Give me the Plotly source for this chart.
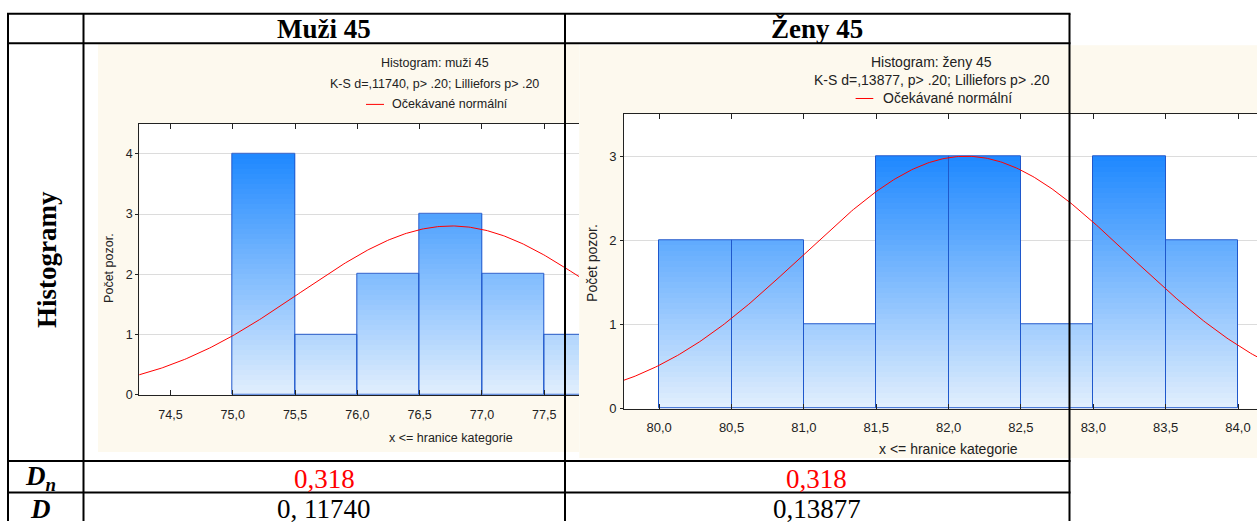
import numpy as np
import plotly.graph_objects as go

W, H = 1257, 529

# ---------------- data ----------------
bin_width = 0.5
muzi_bin_left = [75.0, 75.5, 76.0, 76.5, 77.0, 77.5]
muzi_counts = [4, 1, 2, 3, 2, 1]
zeny_bin_left = [80.0, 80.5, 81.0, 81.5, 82.0, 82.5, 83.0, 83.5]
zeny_counts = [2, 2, 1, 3, 3, 1, 3, 2]

muzi_mean, muzi_sd, muzi_n = 76.755, 1.21, 17
zeny_mean, zeny_sd, zeny_n = 82.12, 1.13, 17

muzi_xticks = [74.5, 75.0, 75.5, 76.0, 76.5, 77.0, 77.5]
zeny_xticks = [80.0, 80.5, 81.0, 81.5, 82.0, 82.5, 83.0, 83.5, 84.0]
muzi_yticks = [0, 1, 2, 3, 4]
zeny_yticks = [0, 1, 2, 3]

col_headers = ["Muži 45", "Ženy 45"]
row_label = "Histogramy"
dn_values = ["0,318", "0,318"]
d_values = ["0, 11740", "0,13877"]
titles = ["Histogram: muži 45", "Histogram: ženy 45"]
ks_texts = ["K-S d=,11740, p> .20; Lilliefors p> .20",
            "K-S d=,13877, p> .20; Lilliefors p> .20"]
legend_text = "Očekávané normální"
y_title = "Počet pozor."
x_title = "x <= hranice kategorie"

# ---------------- helpers ----------------
def fx(x):
    return x / W

def fy(y):
    return 1 - y / H

SANS = "Liberation Sans, Arial, sans-serif"
SERIF = "Liberation Serif, Times New Roman, serif"
TOP_RGB = np.array([30, 136, 255])
BOT_RGB = np.array([226, 239, 253])
EDGE = "#1f58cc"
AXC = "#222222"
CREAM = "#fdf9ee"

fig = go.Figure()


def add_hist(lefts, counts, xa, ya, nlev=48):
    counts = np.array(counts, float)
    centers = np.array(lefts) + bin_width / 2
    top = counts.max()
    dl = top / nlev
    levels = np.linspace(top, 0, nlev, endpoint=False)
    for L in levels:
        t = (L - dl / 2) / top
        c = BOT_RGB + (TOP_RGB - BOT_RGB) * t
        col = "rgb(%d,%d,%d)" % tuple(np.round(c).astype(int))
        fig.add_trace(go.Bar(x=centers, y=np.minimum(counts, L), width=bin_width,
                             marker=dict(color=col, line=dict(width=0)),
                             xaxis=xa, yaxis=ya, hoverinfo="skip", showlegend=False))
    fig.add_trace(go.Bar(x=centers, y=counts, width=bin_width,
                         marker=dict(color="rgba(0,0,0,0)", line=dict(color=EDGE, width=1)),
                         xaxis=xa, yaxis=ya, hoverinfo="skip", showlegend=False))


def add_normal(mean, sd, n, x0, x1, xa, ya):
    xs = np.linspace(x0, x1, 400)
    ys = n * bin_width / (sd * np.sqrt(2 * np.pi)) * np.exp(-0.5 * ((xs - mean) / sd) ** 2)
    fig.add_trace(go.Scatter(x=xs, y=ys, mode="lines", line=dict(color="#ff0000", width=1),
                             xaxis=xa, yaxis=ya, hoverinfo="skip", showlegend=False))


add_hist(muzi_bin_left, muzi_counts, "x", "y")
add_normal(muzi_mean, muzi_sd, muzi_n, 74.0, 79.0, "x", "y")
add_hist(zeny_bin_left, zeny_counts, "x2", "y2")
add_normal(zeny_mean, zeny_sd, zeny_n, 79.5, 84.5, "x2", "y2")

# plot areas (pixels)
p1 = dict(l=139.3, r=579.0, t=125.7, b=400.7)
p2 = dict(l=624.0, r=1257.0, t=116.0, b=415.0)
x1_range = [74.25, 74.25 + (p1["r"] - p1["l"]) / 124.6]
x2_range = [80.0 - (659.2 - p2["l"]) / 144.7, 80.0 + (p2["r"] - 659.2) / 144.7]


def fmt(v):
    return ("%.1f" % v).replace(".", ",")


def xaxis(dom, rng, ticks, fs, anchor, standoff):
    return dict(domain=dom, range=rng, anchor=anchor, tickvals=ticks,
                ticktext=[fmt(v) for v in ticks], ticks="inside", ticklen=5,
                tickcolor=AXC, showline=True, linecolor=AXC, linewidth=1,
                mirror="ticks", showgrid=False, zeroline=False,
                tickfont=dict(family=SANS, size=fs, color=AXC),
                ticklabelstandoff=standoff, fixedrange=True)


def yaxis(dom, rng, ticks, fs, anchor, standoff):
    return dict(domain=dom, range=rng, anchor=anchor, tickvals=ticks,
                ticks="outside", ticklen=3, tickcolor=AXC, showline=True,
                linecolor=AXC, linewidth=1, mirror=False, showgrid=True,
                gridcolor="#dcdcdc", gridwidth=1, zeroline=False,
                tickfont=dict(family=SANS, size=fs, color=AXC),
                ticklabelstandoff=standoff, fixedrange=True)


fig.update_layout(
    width=W, height=H, margin=dict(l=0, r=0, t=0, b=0, pad=0),
    paper_bgcolor="white", plot_bgcolor="white",
    barmode="overlay", bargap=0, showlegend=False,
    xaxis=xaxis([fx(p1["l"]), fx(p1["r"])], x1_range, muzi_xticks, 12.5, "y", 8),
    yaxis=yaxis([fy(p1["b"]), fy(p1["t"])], [0, 4.5], muzi_yticks, 12.5, "x", 0),
    xaxis2=xaxis([fx(p2["l"]), 1.0], x2_range, zeny_xticks, 13, "y2", 7),
    yaxis2=yaxis([fy(p2["b"]), fy(p2["t"])], [0, 3.5], zeny_yticks, 13, "x2", 1),
)

shapes = []


def rect(x0, y0, x1, y1, color):
    shapes.append(dict(type="rect", xref="paper", yref="paper", x0=fx(x0), x1=fx(x1),
                       y0=fy(y1), y1=fy(y0), fillcolor=color, line=dict(width=0),
                       layer="below"))


rect(98, 45, 579.3, 459, CREAM)
rect(579.3, 46, 1257, 465, CREAM)
rect(p1["l"], p1["t"], p1["r"], p1["b"], "white")
rect(p2["l"], p2["t"], p2["r"], p2["b"], "white")


def line(x0, y0, x1, y1, color="black", width=2):
    shapes.append(dict(type="line", xref="paper", yref="paper", x0=fx(x0), x1=fx(x1),
                       y0=fy(y0), y1=fy(y1), line=dict(color=color, width=width),
                       layer="above"))

# legend line samples
line(366, 106, 384, 106, "#ff0000", 1)
line(855.6, 100, 873.3, 100, "#ff0000", 1)

# table grid
for xv in [8, 83.5, 565, 1069.5]:
    line(xv, 14, xv, 529)
for yv in [14, 44, 468, 500]:
    line(7, yv, 1070.5, yv)

fig.update_layout(shapes=shapes)

ann = []


def text(x, y, s, size, family=SANS, color="black", xanchor="center", angle=0):
    ann.append(dict(xref="paper", yref="paper", x=fx(x), y=fy(y), text=s,
                    showarrow=False, xanchor=xanchor, yanchor="middle",
                    font=dict(family=family, size=size, color=color), textangle=angle))

# table texts
text(324.5, 29, "<b>%s</b>" % col_headers[0], 27, SERIF)
text(817, 29, "<b>%s</b>" % col_headers[1], 27, SERIF)
text(47, 264, "<b>%s</b>" % row_label, 27, SERIF, angle=-90)
text(40, 485, "<b><i>D</i></b><sub><b><i>n</i></b></sub>", 27, SERIF)
text(40, 517, "<b><i>D</i></b>", 27, SERIF)
text(324.5, 486, dn_values[0], 27, SERIF, color="#ff0000")
text(817, 486, dn_values[1], 27, SERIF, color="#ff0000")
text(324.5, 517, d_values[0], 27, SERIF)
text(817, 517, d_values[1], 27, SERIF)

# chart 1 texts
text(434.7, 64, titles[0], 12.5, color=AXC)
text(434.7, 85, ks_texts[0], 12.5, color=AXC)
text(390, 106, legend_text, 12.5, color=AXC, xanchor="left")
text(109, 272, y_title, 12.5, color=AXC, angle=-90)
text(450.7, 445, x_title, 12.5, color=AXC)

# chart 2 texts
text(931.6, 63, titles[1], 14, color=AXC)
text(931.6, 81, ks_texts[1], 14, color=AXC)
text(881, 100, legend_text, 14, color=AXC, xanchor="left")
text(592, 267, y_title, 14, color=AXC, angle=-90)
text(948.4, 456, x_title, 14, color=AXC)

fig.update_layout(annotations=ann)

fig.write_html(
    "out.html",
    config={"displayModeBar": False},
    post_script=("document.documentElement.style.margin='0';"
                 "document.body.style.margin='0';document.body.style.padding='0';"
                 "document.documentElement.style.overflow='hidden';"
                 "document.body.style.overflow='hidden';"
                 "var g=document.getElementsByClassName('plotly-graph-div')[0];"
                 "g.style.position='fixed';g.style.top='0px';g.style.left='0px';"),
)
